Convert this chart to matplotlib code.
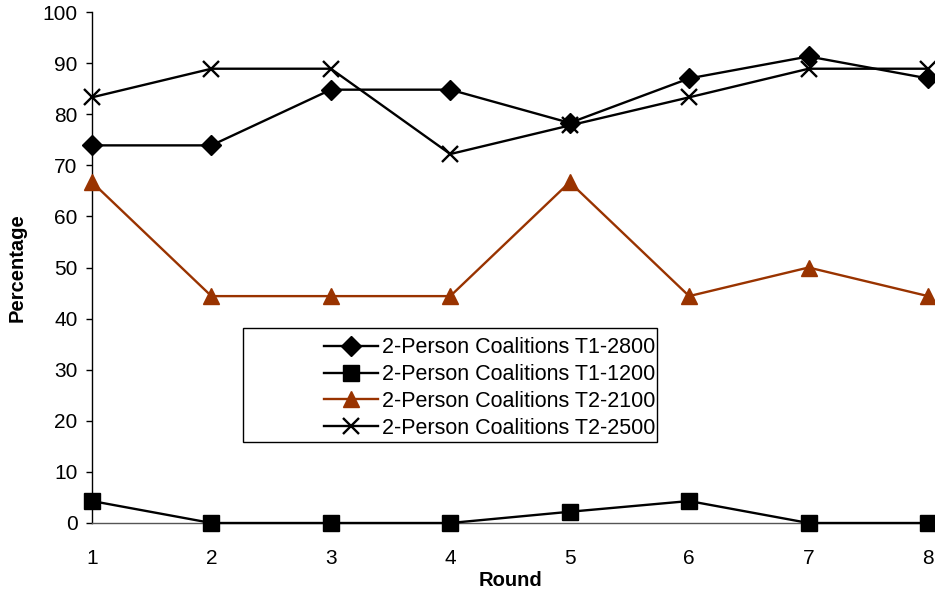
import matplotlib
matplotlib.use("Agg")
import matplotlib.pyplot as plt
from matplotlib.patches import Rectangle

plt.rcParams["font.family"] = ["Liberation Sans", "DejaVu Sans"]

rounds = [1, 2, 3, 4, 5, 6, 7, 8]
t1_2800 = [73.9, 73.9, 84.8, 84.8, 78.3, 87.0, 91.3, 87.0]
t1_1200 = [4.3, 0.0, 0.0, 0.0, 2.2, 4.3, 0.0, 0.0]
t2_2100 = [66.7, 44.4, 44.4, 44.4, 66.7, 44.4, 50.0, 44.4]
t2_2500 = [83.3, 88.9, 88.9, 72.2, 77.8, 83.3, 88.9, 88.9]
labels = [
    "2-Person Coalitions T1-2800",
    "2-Person Coalitions T1-1200",
    "2-Person Coalitions T2-2100",
    "2-Person Coalitions T2-2500",
]
yticks = [0, 10, 20, 30, 40, 50, 60, 70, 80, 90, 100]

fig = plt.figure(figsize=(9.35, 5.9), dpi=100)
ax = fig.add_axes([92 / 935, 67 / 590, 836 / 935, 511 / 590])

brown = "#993300"
ax.plot(rounds, t1_2800, color="black", lw=1.7, marker="D", ms=10.5,
        clip_on=False, label=labels[0], zorder=3)
ax.plot(rounds, t1_1200, color="black", lw=1.7, marker="s", ms=11,
        clip_on=False, label=labels[1], zorder=3)
ax.plot(rounds, t2_2100, color=brown, lw=1.7, marker="^", ms=12,
        clip_on=False, label=labels[2], zorder=3)
ax.plot(rounds, t2_2500, color="black", lw=1.7, marker="x", ms=12, mew=1.7,
        clip_on=False, label=labels[3], zorder=3)

ax.set_xlim(1, 8)
ax.set_ylim(0, 100)
ax.set_yticks(yticks)
ax.set_xticks(rounds)
ax.tick_params(axis="y", direction="out", length=4.5, width=1, labelsize=15, pad=6)
ax.tick_params(axis="x", length=0, labelsize=15, pad=19)
for s in ["top", "right"]:
    ax.spines[s].set_visible(False)
ax.spines["left"].set_linewidth(1)
ax.spines["bottom"].set_linewidth(1)
ax.spines["bottom"].set_color("#555555")

ax.set_xlabel("Round", fontsize=14.5, fontweight="bold", labelpad=2)
ax.set_ylabel("Percentage", fontsize=14.5, fontweight="bold", labelpad=11)

# legend frame drawn separately: box is wider than its content
fig.patches.append(Rectangle((243 / 935, 1 - 442 / 590), 414 / 935, 114 / 590,
                             transform=fig.transFigure, fill=True,
                             facecolor="white", edgecolor="black", lw=1,
                             zorder=5))
leg = fig.legend(loc="upper right", bbox_to_anchor=(660 / 935, 1 - 333 / 590),
                 frameon=False, fontsize=15.5, handlelength=2.5,
                 handletextpad=0.2, labelspacing=0.27, borderaxespad=0,
                 borderpad=0.2)
leg.set_zorder(6)

fig.savefig("out.png", dpi=100)
